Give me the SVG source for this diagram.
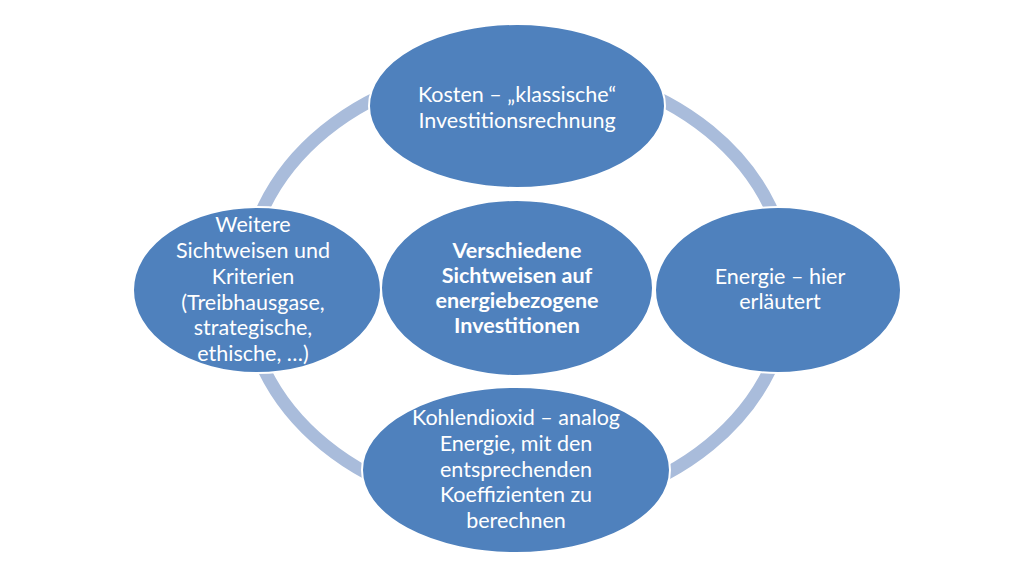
<svg xmlns="http://www.w3.org/2000/svg" width="1024" height="576" viewBox="0 0 1024 576">
<style>
.n{fill:#4F81BD;stroke:#FFFFFF;stroke-width:2}
.t{font-family:Lato,"Liberation Sans",sans-serif;font-size:21.5px;fill:#FFFFFF;text-anchor:middle}
.b{font-weight:bold}
</style>
<rect width="1024" height="576" fill="#FFFFFF"/>
<g id="connectors">
<ellipse cx="517" cy="288" rx="272" ry="222" fill="none" stroke="#A9BCDB" stroke-width="13"/>
</g>
<g id="center">
<ellipse class="n" cx="517" cy="288" rx="136" ry="88"/>
<text class="t b"><tspan x="517" y="258">Verschiedene</tspan><tspan x="517" y="283">Sichtweisen auf</tspan><tspan x="517" y="308">energiebezogene</tspan><tspan x="517" y="333">Investitionen</tspan></text>
</g>
<g id="top">
<ellipse class="n" cx="517" cy="106" rx="148" ry="82"/>
<text class="t"><tspan x="517" y="102">Kosten – „klassische“</tspan><tspan x="517" y="128">Investitionsrechnung</tspan></text>
</g>
<g id="right">
<ellipse class="n" cx="778" cy="290" rx="123" ry="83"/>
<text class="t"><tspan x="780" y="284">Energie – hier</tspan><tspan x="780" y="309">erläutert</tspan></text>
</g>
<g id="bottom">
<ellipse class="n" cx="516" cy="470" rx="154" ry="83"/>
<text class="t"><tspan x="516" y="425">Kohlendioxid – analog</tspan><tspan x="516" y="451">Energie, mit den</tspan><tspan x="516" y="477">entsprechenden</tspan><tspan x="516" y="502">Koeffizienten zu</tspan><tspan x="516" y="528">berechnen</tspan></text>
</g>
<g id="left">
<ellipse class="n" cx="257" cy="290" rx="124" ry="83"/>
<text class="t"><tspan x="253" y="232">Weitere</tspan><tspan x="253" y="258">Sichtweisen und</tspan><tspan x="253" y="284">Kriterien</tspan><tspan x="253" y="310">(Treibhausgase,</tspan><tspan x="253" y="335">strategische,</tspan><tspan x="253" y="361">ethische, …)</tspan></text>
</g>
</svg>
